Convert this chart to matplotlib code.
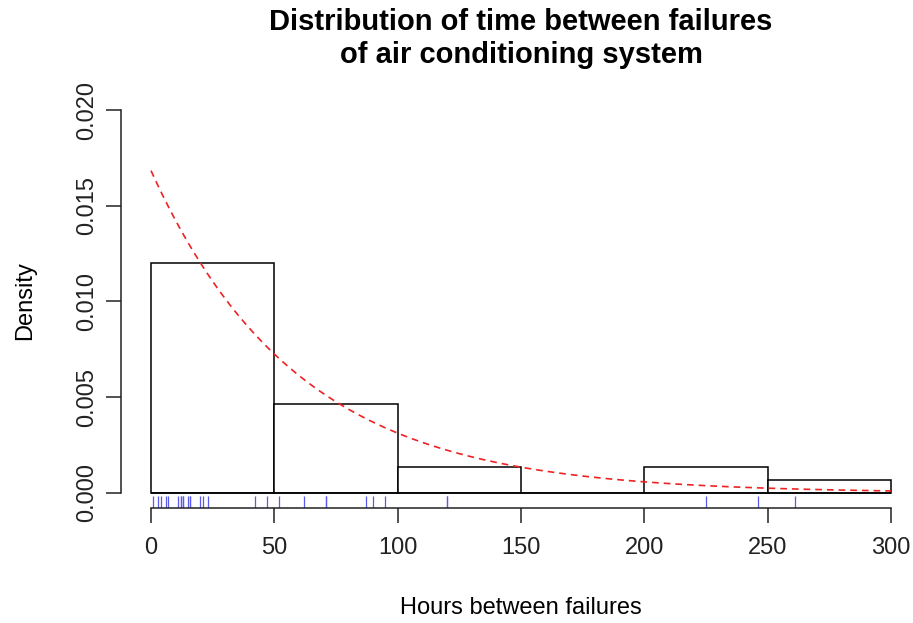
import numpy as np
import matplotlib.pyplot as plt

# hours between failures
hours = [1, 3, 4, 6, 7, 11, 12, 12, 13, 13, 15, 16, 16, 20, 21, 23, 42, 47,
         52, 62, 71, 71, 87, 90, 95, 120, 120, 225, 246, 261]
bin_edges = [0, 50, 100, 150, 200, 250, 300]
x_ticks = [0, 50, 100, 150, 200, 250, 300]
y_ticks = [0.000, 0.005, 0.010, 0.015, 0.020]

plt.rcParams['font.family'] = ['Liberation Sans', 'DejaVu Sans']

W, H = 913, 623
fig = plt.figure(figsize=(W / 100, H / 100), dpi=100)
# plot region in pixels (R style 4% padding around 0-300 / 0-0.02)
left, right, top, bottom = 121.4, 920.6, 94.7, 508.3
ax = fig.add_axes([left / W, 1 - bottom / H, (right - left) / W, (bottom - top) / H])
ax.set_xlim(-12, 312)
ax.set_ylim(-0.0008, 0.0208)

data = np.array(hours, dtype=float)
ax.hist(data, bins=bin_edges, density=True, histtype='bar',
        facecolor='white', edgecolor='black', linewidth=1.1)
# zero height bins still show their outline at y=0
ax.hlines(0, bin_edges[0], bin_edges[-1], color='black', linewidth=1.1)

# fitted exponential density
rate = 1 / data.mean()
xs = np.linspace(0, 300, 400)
ax.plot(xs, rate * np.exp(-rate * xs), color='#ee2222', linestyle=(0, (4, 3)), linewidth=1.2)

# rug
ax.vlines(data, -0.0008, -0.0008 + 0.03 * 0.0216, color='#5a5aee', linewidth=0.9)

for s in ['top', 'right']:
    ax.spines[s].set_visible(False)
ax.spines['left'].set_bounds(0, 0.02)
ax.spines['bottom'].set_bounds(0, 300)
for s in ['left', 'bottom']:
    ax.spines[s].set_linewidth(1.1)
    ax.spines[s].set_color('#222222')

ax.set_xticks(x_ticks)
ax.set_yticks(y_ticks)
ax.set_yticklabels(['%.3f' % v for v in y_ticks], rotation=90, va='center')
ax.tick_params(axis='both', length=11, width=1.1, labelsize=17, colors='#222222', pad=6)
ax.tick_params(axis='x', pad=10)

cx = (left + right) / 2 / W
fig.text(cx, 1 - 30 / H, 'Distribution of time between failures',
         ha='center', va='baseline', fontsize=21, fontweight='bold')
fig.text(cx, 1 - 63 / H, 'of air conditioning system',
         ha='center', va='baseline', fontsize=21, fontweight='bold')
fig.text(cx, 1 - 608 / H, 'Hours between failures',
         ha='center', va='center', fontsize=17)
fig.text(25 / W, 1 - 301 / H, 'Density', rotation=90,
         ha='center', va='center', fontsize=17)

fig.savefig('out.png', dpi=100)
